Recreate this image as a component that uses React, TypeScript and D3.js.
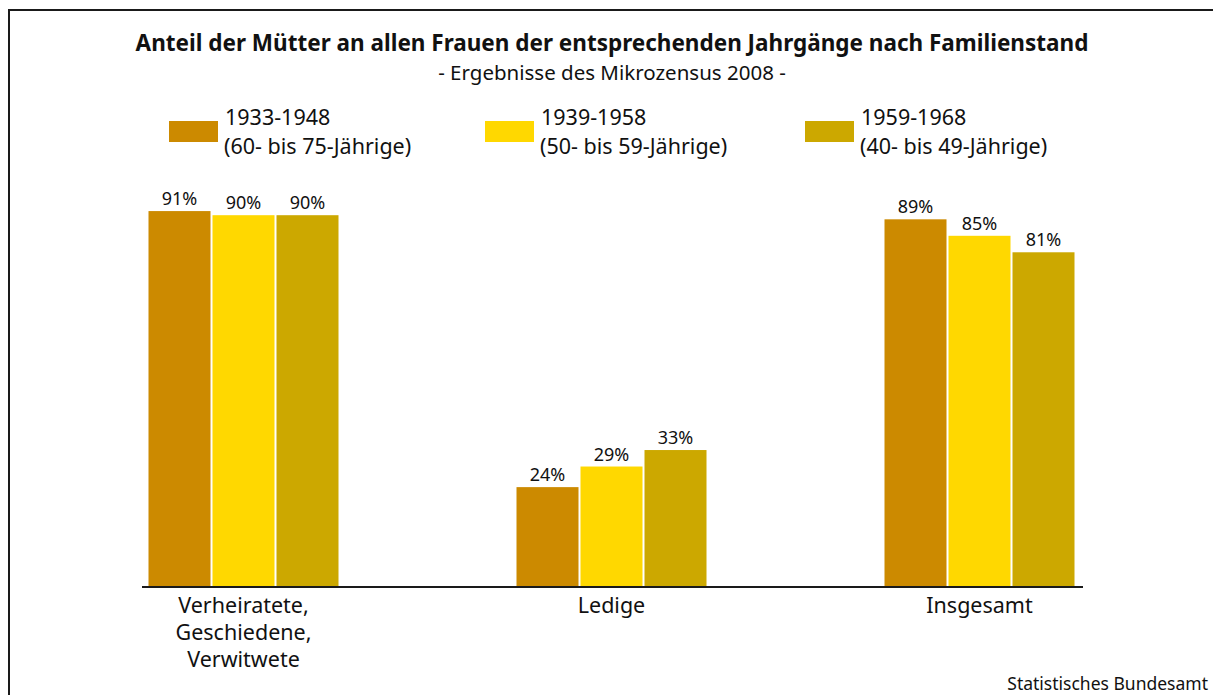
import React, { useEffect, useRef } from 'react';
import * as d3 from 'd3';

const categories = [['Verheiratete,', 'Geschiedene,', 'Verwitwete'], ['Ledige'], ['Insgesamt']];
const seriesNames = ['1933-1948', '1939-1958', '1959-1968'];
const seriesAges = ['(60- bis 75-Jährige)', '(50- bis 59-Jährige)', '(40- bis 49-Jährige)'];
const seriesColors = ['#cc8a00', '#ffd800', '#cca800'];
// values per category, one per series
const v1933 = [91, 24, 89];
const v1939 = [90, 29, 85];
const v1959 = [90, 33, 81];

const W = 1213;
const H = 695;
const FONT = '"Noto Sans", "Open Sans", sans-serif';

const App = () => {
  const svgRef = useRef<SVGSVGElement>(null);

  useEffect(() => {
    const svg = d3.select(svgRef.current);
    svg.selectAll('*').remove();

    const values = [v1933, v1939, v1959];
    const catKeys = categories.map((c) => c.join(' '));

    // frame (runs off the right and bottom of the window)
    svg.append('rect')
      .attr('x', 9).attr('y', 10)
      .attr('width', W + 20).attr('height', H + 20)
      .attr('fill', 'none').attr('stroke', '#1a1a1a').attr('stroke-width', 2);

    svg.append('text')
      .attr('x', 612).attr('y', 51)
      .attr('text-anchor', 'middle')
      .attr('font-family', FONT).attr('font-weight', 'bold').attr('font-size', 22.5)
      .attr('fill', '#111')
      .text('Anteil der Mütter an allen Frauen der entsprechenden Jahrgänge nach Familienstand');

    svg.append('text')
      .attr('x', 612).attr('y', 80)
      .attr('text-anchor', 'middle')
      .attr('font-family', FONT).attr('font-size', 20.5)
      .attr('fill', '#111')
      .text('- Ergebnisse des Mikrozensus 2008 -');

    // legend
    const legendX = [169, 485, 805];
    seriesNames.forEach((name, i) => {
      const g = svg.append('g').attr('transform', `translate(${legendX[i]},0)`);
      g.append('rect').attr('x', 0).attr('y', 121).attr('width', 49).attr('height', 21)
        .attr('fill', seriesColors[i]);
      g.append('text').attr('x', 56).attr('y', 125)
        .attr('font-family', FONT).attr('font-size', 21.5).attr('fill', '#111').text(name);
      g.append('text').attr('x', 55).attr('y', 154)
        .attr('font-family', FONT).attr('font-size', 21.5).attr('fill', '#111').text(seriesAges[i]);
    });

    const y = d3.scaleLinear().domain([0, 100]).range([586, 174]);
    const x0 = d3.scaleBand<string>().domain(catKeys).range([59.5, 1163.5]).padding(0);
    const x1 = d3.scaleBand<string>().domain(seriesNames).range([0, 190]).paddingInner(2 / 64);

    const groups = svg.selectAll('g.grp')
      .data(catKeys)
      .join('g')
      .attr('class', 'grp')
      .attr('transform', (d) => `translate(${(x0(d) ?? 0) + x0.bandwidth() / 2 - 95},0)`);

    groups.selectAll('rect')
      .data((d, ci) => seriesNames.map((s, si) => ({ s, si, v: values[si][ci] })))
      .join('rect')
      .attr('x', (d) => x1(d.s) ?? 0)
      .attr('width', x1.bandwidth())
      .attr('y', (d) => y(d.v))
      .attr('height', (d) => y(0) - y(d.v))
      .attr('fill', (d) => seriesColors[d.si]);

    groups.selectAll('text.val')
      .data((d, ci) => seriesNames.map((s, si) => ({ s, si, v: values[si][ci] })))
      .join('text')
      .attr('class', 'val')
      .attr('x', (d) => (x1(d.s) ?? 0) + x1.bandwidth() / 2)
      .attr('y', (d) => y(d.v) - 6)
      .attr('text-anchor', 'middle')
      .attr('font-family', FONT).attr('font-size', 18).attr('fill', '#111')
      .text((d) => `${d.v}%`);

    // axis line
    svg.append('line')
      .attr('x1', 142).attr('x2', 1083)
      .attr('y1', y(0) + 1).attr('y2', y(0) + 1)
      .attr('stroke', '#1a1a1a').attr('stroke-width', 2);

    // category labels
    categories.forEach((lines, ci) => {
      const t = svg.append('text')
        .attr('text-anchor', 'middle')
        .attr('font-family', FONT).attr('font-size', 21.5).attr('fill', '#111');
      lines.forEach((ln, li) => {
        t.append('tspan')
          .attr('x', (x0(catKeys[ci]) ?? 0) + x0.bandwidth() / 2)
          .attr('y', 613 + li * 27)
          .text(ln);
      });
    });

    svg.append('text')
      .attr('x', 1208).attr('y', 690)
      .attr('text-anchor', 'end')
      .attr('font-family', FONT).attr('font-size', 17.5).attr('fill', '#111')
      .text('Statistisches Bundesamt');
  }, []);

  return (
    <svg
      ref={svgRef}
      width={W}
      height={H}
      style={{ position: 'fixed', left: 0, top: 0, background: '#fff' }}
    />
  );
};

export default App;
